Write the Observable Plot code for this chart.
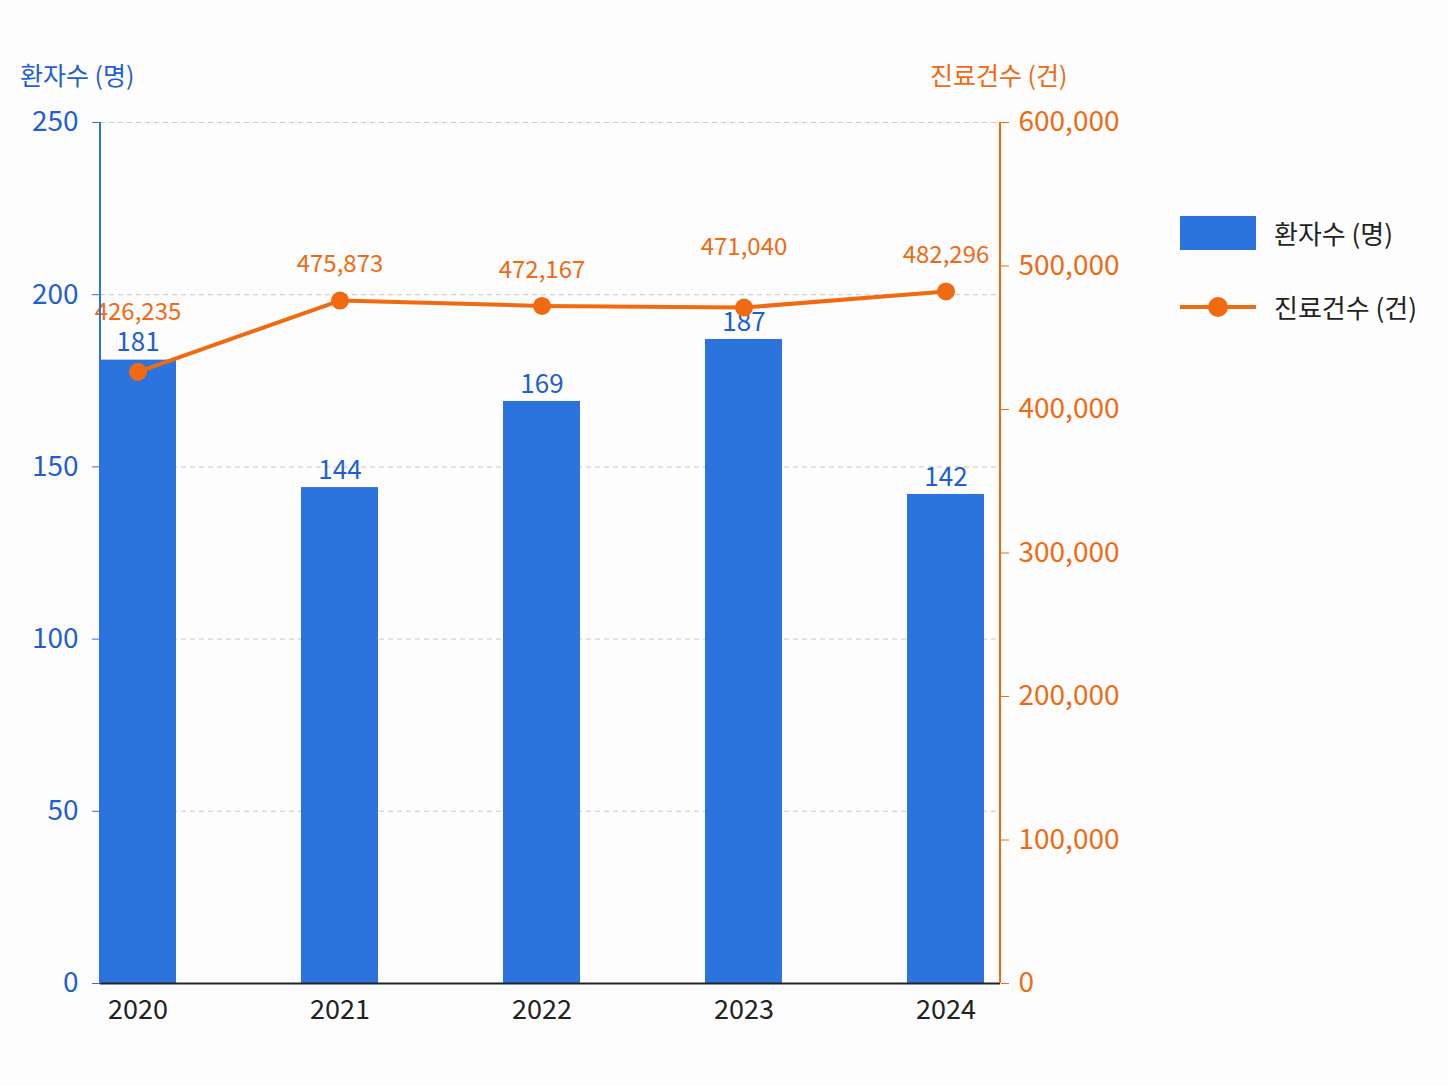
<!DOCTYPE html>
<html><head><meta charset="utf-8">
<script src="https://cdn.jsdelivr.net/npm/d3@7"></script>
<script src="https://cdn.jsdelivr.net/npm/@observablehq/plot@0.6"></script>
<style>
body{margin:0;background:#fdfdfd;font-family:"Noto Sans CJK KR","Noto Sans",sans-serif;}
#wrap{position:relative;width:1448px;height:1086px;}
.t{position:absolute;font-size:25px;}
</style></head><body>
<div id="wrap"></div>
<script>
const years = ["2020","2021","2022","2023","2024"];
const patients = [181,144,169,187,142];
const visits = [426235,475873,472167,471040,482296];
const leftTicks = [0,50,100,150,200,250];
const rightTicks = [0,100000,200000,300000,400000,500000,600000];

const BLUE="#2c74dd", BLUE_T="#1f5fcf", ORANGE="#f06a12";
const k = 250/600000;
const data = years.map((y,i)=>({year:y,p:patients[i],v:visits[i],vs:visits[i]*k}));
const fmt = d3.format(",");

const chart = Plot.plot({
  width:1448, height:1086,
  marginLeft:100, marginRight:448, marginTop:122, marginBottom:103,
  style:{fontFamily:'"Noto Sans CJK KR","Noto Sans",sans-serif', fontSize:"26px", background:"transparent"},
  x:{domain:years, range:[98,986], paddingInner:0.617, paddingOuter:0, label:null},
  y:{domain:[0,250], label:null},
  marks:[
    Plot.gridY(leftTicks.slice(1),{stroke:"#bbb",strokeDasharray:"5,4",strokeOpacity:0.8}),
    Plot.barY(data,{x:"year",y:"p",fill:BLUE}),
    Plot.text(data,{x:"year",y:"p",text:d=>d.p,dy:-17,fill:BLUE_T,fontSize:26}),
    Plot.line(data,{x:"year",y:"vs",stroke:ORANGE,strokeWidth:4}),
    Plot.dot(data,{x:"year",y:"vs",r:9,fill:ORANGE}),
    Plot.text(data,{x:"year",y:"vs",text:d=>fmt(d.v),dy:-36,fill:ORANGE,fontSize:24,
      filter:d=>d.p*3.444 < d.vs*3.444 - 45}),
    Plot.text(data,{x:"year",y:"vs",text:d=>fmt(d.v),dy:-60,fill:ORANGE,fontSize:24,
      filter:d=>!(d.p*3.444 < d.vs*3.444 - 45)}),
    Plot.axisY(leftTicks,{anchor:"left",color:BLUE_T,tickSize:8,stroke:BLUE,fontSize:28,tickPadding:14,label:null}),
    Plot.axisY(rightTicks.map(v=>v*k),{anchor:"right",color:ORANGE,stroke:ORANGE,tickSize:8,tickPadding:10,tickFormat:d=>fmt(Math.round(d/k)),fontSize:28,label:null}),
    Plot.axisX({tickSize:0,fontSize:27,color:"#222",tickPadding:16,label:null}),
    Plot.ruleY([0],{stroke:"#222",strokeWidth:2})
  ]
});
const wrap=document.getElementById("wrap");
wrap.appendChild(chart);
const svg=d3.select(chart);
svg.append("line").attr("x1",100).attr("x2",100).attr("y1",122).attr("y2",983).attr("stroke",BLUE).attr("stroke-width",2);
svg.append("line").attr("x1",1000).attr("x2",1000).attr("y1",122).attr("y2",983).attr("stroke",ORANGE).attr("stroke-width",2);
wrap.insertAdjacentHTML("beforeend",`
<div class="t" style="left:20px;top:56px;color:${BLUE_T}">환자수 (명)</div>
<div class="t" style="left:930px;top:56px;color:${ORANGE}">진료건수 (건)</div>
<div style="position:absolute;left:1180px;top:216px;width:76px;height:34px;background:${BLUE}"></div>
<div class="t" style="left:1274px;top:214px;color:#222;font-size:26px">환자수 (명)</div>
<div style="position:absolute;left:1180px;top:305px;width:76px;height:4px;background:${ORANGE}"></div>
<div style="position:absolute;left:1208px;top:297px;width:20px;height:20px;border-radius:50%;background:${ORANGE}"></div>
<div class="t" style="left:1274px;top:288px;color:#222;font-size:26px">진료건수 (건)</div>
`);
</script></body></html>
